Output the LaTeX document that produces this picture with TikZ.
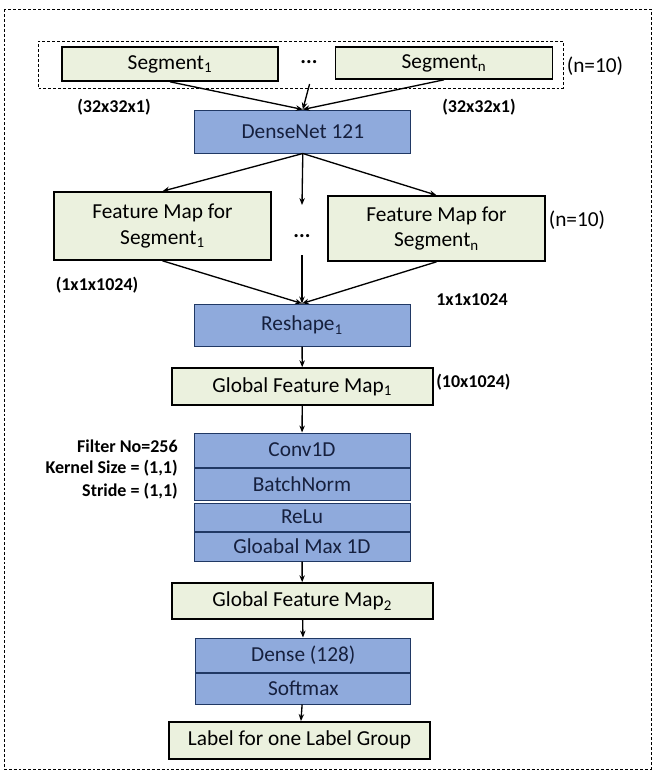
\documentclass[tikz,border=0pt]{standalone}
\usepackage{fontspec}
\setmainfont{Carlito}
\usetikzlibrary{positioning, arrows.meta}
\definecolor{boxGreen}{RGB}{235,241,222}
\definecolor{boxBlue}{RGB}{143,170,220}
\definecolor{boxEdge}{RGB}{32,56,100}
\definecolor{boxInk}{RGB}{22,32,62}
\newlength{\unitpx}\setlength{\unitpx}{0.75pt}

\begin{document}
\begin{tikzpicture}[
    x=0.75pt, y=-0.75pt,
    font=\fontsize{16}{19}\selectfont,
    gbox/.style={draw=black, line width=1.2pt, fill=boxGreen, align=center,
                 inner sep=0pt, minimum width=216\unitpx},
    bbox/.style={draw=boxEdge, line width=0.75pt, fill=boxBlue, text=boxInk,
                 inner sep=0pt, minimum width=216\unitpx},
    lab/.style={font=\bfseries\fontsize{13.5}{16}\selectfont, inner sep=0pt},
    a/.style={-{Stealth[length=5.2pt, width=4.1pt]}, line width=1pt},
    frame/.style={dash pattern=on 2.2pt off 1.5pt, line width=0.6pt},
  ]
    \useasboundingbox (0,0) rectangle (655,775);
    \draw[frame] (4,9) rectangle (651,769);

    % input segments
    \node[frame, draw, minimum width=525\unitpx, minimum height=47\unitpx] (grp) at (301,64.5) {};
    \node[gbox, minimum height=34\unitpx] (seg1) at (170,64) {Segment\textsubscript{1}};
    \node[gbox, minimum width=217\unitpx, minimum height=32\unitpx] (segn) at (444,63) {Segment\textsubscript{n}};
    \node (dots1) at (309,62) {\textbf{...}};
    \node (n1) at (595,66) {(n=10)};
    \coordinate (dots1end) at (309.6,84);
    \node[lab] (in1) at (114,107) {(32x32x1)};
    \node[lab] (in2) at (479,107) {(32x32x1)};

    \node[bbox, minimum height=43\unitpx] (dn) at (302.8,131.5) {DenseNet 121};
    \draw[a] (seg1.south) -- (dn.north);
    \draw[a] (dots1end) -- (dn.north);
    \draw[a] (segn.south) -- (dn.north);

    % feature maps
    \node[gbox, minimum width=217\unitpx, minimum height=68\unitpx] (fm1) at (162.5,226) {Feature Map for\\Segment\textsubscript{1}};
    \node[gbox, minimum width=217\unitpx, minimum height=65\unitpx] (fmn) at (436.5,228.5) {Feature Map for\\Segment\textsubscript{n}};
    \node (dots2) at (302,236) {\textbf{...}};
    \node (n2) at (577,220) {(n=10)};
    \coordinate (midtop) at (302,205);
    \coordinate (midbot) at (302,255);
    \draw[a] (dn.south) -- (fm1.north);
    \draw[a] (dn.south) -- (midtop);
    \draw[a] (dn.south) -- (fmn.north);
    \node[lab] (fo1) at (97,285) {(1x1x1024)};
    \node[lab] (fo2) at (472,300) {1x1x1024};

    \node[bbox, minimum height=42\unitpx] (rs) at (302,325) {Reshape\textsubscript{1}};
    \draw[a] (fm1.south) -- (rs.north);
    \draw[a] (midbot) -- (rs.north);
    \draw[a] (fmn.south) -- (rs.north);

    \node[gbox, minimum width=261\unitpx, minimum height=37\unitpx] (gf1) at (302.3,386.5) {Global Feature Map\textsubscript{1}};
    \node[lab, anchor=west] (gs1) at (436,382) {(10x1024)};
    \draw[a] (rs) -- (gf1);

    % conv block
    \node[bbox, minimum height=34\unitpx] (conv) at (302,450) {Conv1D};
    \node[bbox, minimum height=32\unitpx, below=0pt of conv] (bn) {BatchNorm};
    \node[bbox, minimum height=28\unitpx, below=2\unitpx of bn] (relu) {ReLu};
    \node[bbox, minimum height=29\unitpx, below=0pt of relu] (gmax) {Gloabal Max 1D};
    \draw[a] (gf1) -- (conv);
    \node[lab, anchor=east] (p1) at (178,446) {Filter No=256};
    \node[lab, anchor=east] (p2) at (178,468) {Kernel Size = (1,1)};
    \node[lab, anchor=east] (p3) at (178,491) {Stride = (1,1)};

    \node[gbox, minimum width=261\unitpx, minimum height=36\unitpx] (gf2) at (302.3,601) {Global Feature Map\textsubscript{2}};
    \draw[a] (gmax) -- (gf2);

    % output
    \node[bbox, minimum width=215\unitpx, minimum height=34\unitpx] (dense) at (303.3,655) {Dense (128)};
    \node[bbox, minimum width=215\unitpx, minimum height=31\unitpx, below=0pt of dense] (soft) {Softmax};
    \draw[a] (gf2) -- (dense);
    \node[gbox, minimum width=261\unitpx, minimum height=37\unitpx] (out) at (299.5,740.3) {Label for one Label Group};
    \draw[a] (soft) -- (out);
\end{tikzpicture}
\end{document}
